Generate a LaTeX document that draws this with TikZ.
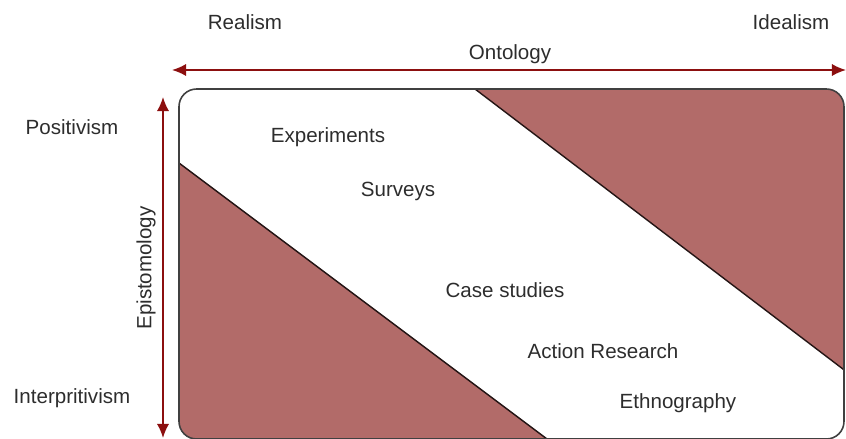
\documentclass[tikz,border=0pt]{standalone}
\usepackage{fontspec}
\setmainfont{Liberation Sans}
\usepackage{tikz}
\usetikzlibrary{arrows.meta, positioning}
\definecolor{wedgered}{RGB}{178,107,105}
\definecolor{axisred}{RGB}{140,15,15}
\definecolor{labelgray}{RGB}{45,45,45}

\begin{document}
\begin{tikzpicture}[
        x=0.02cm, y=-0.02cm,
        every node/.style={font=\fontsize{11.7}{14}\selectfont, text=labelgray, inner sep=1pt},
        axis/.style={{Latex[length=8pt,width=7pt]}-{Latex[length=8pt,width=7pt]}, line width=1.1pt, draw=axisred},
        wedge/.style={fill=wedgered, draw=black!80!wedgered, line width=0.8pt},
        frame/.style={draw=black!75, line width=0.9pt, rounded corners=10pt}
    ]
    \useasboundingbox (0,0) rectangle (846,439);

    % Corners of the frame
    \coordinate (nw) at (179,89);
    \coordinate (se) at (844,439);

    % Shaded wedges
    \begin{scope}
        \clip[rounded corners=10pt] (nw) rectangle (se);
        \draw[wedge] (475,89) -- (860,89) -- (860,382) -- cycle;
        \draw[wedge] (179,163) -- (179,460) -- (575,460) -- cycle;
    \end{scope}
    \draw[frame] (nw) rectangle (se);

    % Axes
    \coordinate (ont west) at (172,70);
    \coordinate (ont east) at (846,70);
    \coordinate (epi north) at (163,97);
    \coordinate (epi south) at (163,438);
    \draw[axis] (ont west) -- (ont east);
    \draw[axis] (epi north) -- (epi south);

    % Axis labels
    \node (realism) at (245,22) {Realism};
    \node (idealism) at (791,22) {Idealism};
    \node (ontology) at (510,54) {Ontology};
    \node (positivism) at (72,127) {Positivism};
    \node (interpritivism) at (72,398) {Interpritivism};
    \node[rotate=90] (epistomology) at (146,268) {Epistomology};

    % Methods
    \node (experiments) at (328,137) {Experiments};
    \node (surveys) at (398,191) {Surveys};
    \node (casestudies) at (505,290) {Case studies};
    \node (actionresearch) at (603,351) {Action Research};
    \node (ethnography) at (678,403) {Ethnography};

\end{tikzpicture}
\end{document}
